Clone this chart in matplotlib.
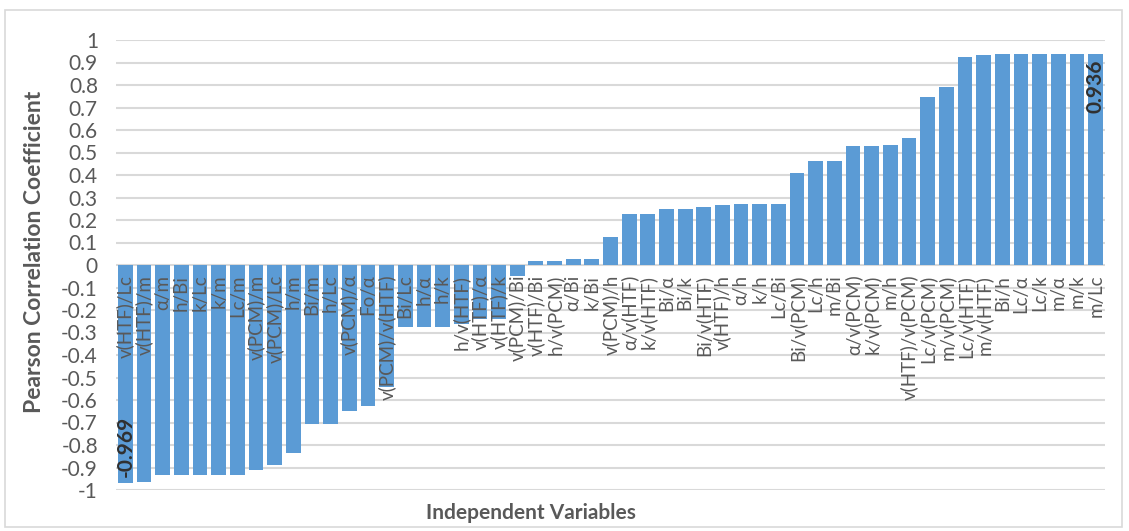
import matplotlib
matplotlib.use("Agg")
import matplotlib.pyplot as plt
from matplotlib.patches import Rectangle

plt.rcParams['font.family'] = ['Lato', 'DejaVu Sans']

# ratios of the independent variables, sorted by correlation
variables = [
    'v(HTF)/Lc', 'v(HTF)/m', 'α/m', 'h/Bi', 'k/Lc', 'k/m', 'Lc/m',
    'v(PCM)/m', 'v(PCM)/Lc', 'h/m', 'Bi/m', 'h/Lc', 'v(PCM)/α', 'Fo/α',
    'v(PCM)/v(HTF)', 'Bi/Lc', 'h/α', 'h/k', 'h/v(HTF)', 'v(HTF)/α',
    'v(HTF)/k', 'v(PCM)/Bi', 'v(HTF)/Bi', 'h/v(PCM)', 'α/Bi', 'k/Bi',
    'v(PCM)/h', 'α/v(HTF)', 'k/v(HTF)', 'Bi/α', 'Bi/k', 'Bi/v(HTF)',
    'v(HTF)/h', 'α/h', 'k/h', 'Lc/Bi', 'Bi/v(PCM)', 'Lc/h', 'm/Bi',
    'α/v(PCM)', 'k/v(PCM)', 'm/h', 'v(HTF)/v(PCM)', 'Lc/v(PCM)',
    'm/v(PCM)', 'Lc/v(HTF)', 'm/v(HTF)', 'Bi/h', 'Lc/α', 'Lc/k', 'm/α',
    'm/k', 'm/Lc',
]
pearson = [
    -0.969, -0.965, -0.934, -0.934, -0.934, -0.934, -0.934,
    -0.912, -0.887, -0.834, -0.705, -0.705, -0.649, -0.627,
    -0.543, -0.275, -0.275, -0.275, -0.260, -0.240,
    -0.240, -0.050, 0.016, 0.016, 0.028, 0.028,
    0.126, 0.226, 0.226, 0.248, 0.248, 0.256,
    0.265, 0.272, 0.272, 0.272, 0.407, 0.464, 0.464,
    0.527, 0.527, 0.532, 0.566, 0.746,
    0.791, 0.926, 0.935, 0.936, 0.936, 0.936, 0.936,
    0.936, 0.936,
]
labelled = [0, len(pearson) - 1]   # bars carrying a data label

BAR = '#5B9BD5'
GRID = '#D9D9D9'
TXT = '#595959'

fig = plt.figure(figsize=(11.29, 5.31), dpi=100)
ax = fig.add_axes([116 / 1129, 1 - 490 / 531, 989 / 1129, 450 / 531])

x = range(len(variables))
ax.bar(x, pearson, width=0.79, color=BAR, zorder=2)

ax.set_xlim(-0.5, len(variables) - 0.5)
ax.set_ylim(-1, 1)
ax.set_yticks([i / 10 for i in range(-10, 11)])
ax.set_yticklabels([f"{i / 10:g}" for i in range(-10, 11)])
ax.yaxis.grid(True, color=GRID, linewidth=1.5)
ax.yaxis.set_zorder(0.5)
ax.xaxis.set_zorder(3)

# category labels hang from the zero line, over the bars
ax.spines['bottom'].set_position(('data', 0))
for side in ['top', 'right', 'left', 'bottom']:
    ax.spines[side].set_visible(False)
ax.set_xticks(list(x))
ax.set_xticklabels(variables, rotation=90, va='top', ha='center',
                   fontsize=13.5, color=TXT)
ax.tick_params(axis='x', length=0, pad=7)
ax.tick_params(axis='y', length=0, pad=13, labelsize=15, labelcolor=TXT)

for i in labelled:
    v = pearson[i]
    ax.annotate(f"{v:.3f}", xy=(i, v), xytext=(0, 4 if v < 0 else -4),
                textcoords='offset points', rotation=90, ha='center',
                va='bottom' if v < 0 else 'top', fontsize=15,
                fontweight='bold', color='#303030', zorder=4)

fig.text(35 / 1129, 1 - 252 / 531, 'Pearson Correlation Coefficient',
         rotation=90, ha='center', va='center', fontsize=16.5,
         fontweight='bold', color=TXT)
fig.text(531 / 1129, 1 - 513 / 531, 'Independent Variables',
         ha='center', va='center', fontsize=15, fontweight='bold', color=TXT)

fig.patches.append(Rectangle((5 / 1129, 4 / 531), 1117 / 1129, 517 / 531,
                             transform=fig.transFigure, fill=False,
                             edgecolor=GRID, linewidth=1.2))

fig.savefig('out.png', dpi=100, facecolor='white')
